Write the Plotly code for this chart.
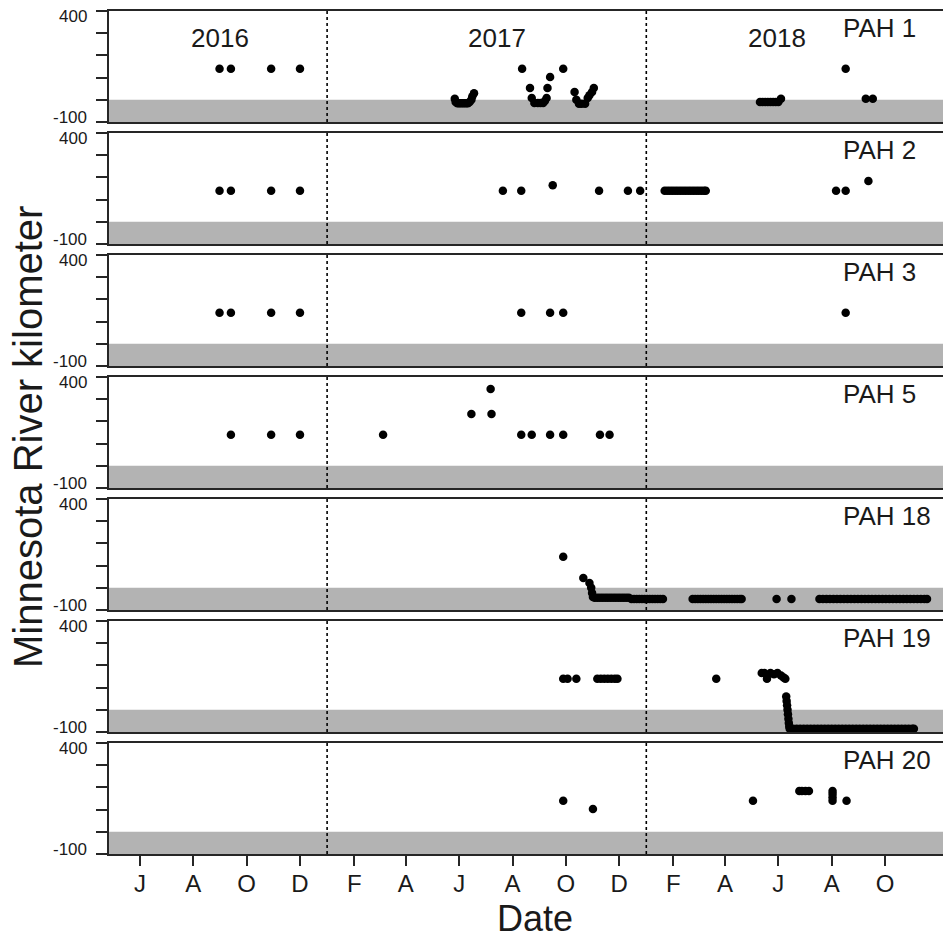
import plotly.graph_objects as go
from plotly.subplots import make_subplots

# ---------------- data ----------------
panel_names = ["PAH 1", "PAH 2", "PAH 3", "PAH 5", "PAH 18", "PAH 19", "PAH 20"]

pah1_dates = ["2016-08-31", "2016-09-13", "2016-10-29", "2016-12-01",
              "2017-05-27", "2017-05-28", "2017-05-30", "2017-06-01", "2017-06-03", "2017-06-05",
              "2017-06-07", "2017-06-09", "2017-06-11", "2017-06-13", "2017-06-15", "2017-06-16",
              "2017-06-18",
              "2017-08-12", "2017-08-21", "2017-08-23", "2017-08-26", "2017-08-30", "2017-09-02",
              "2017-09-05", "2017-09-07", "2017-09-09", "2017-09-10", "2017-09-13", "2017-09-28",
              "2017-10-11", "2017-10-13", "2017-10-16", "2017-10-19", "2017-10-23", "2017-10-26",
              "2017-10-28", "2017-10-31", "2017-11-02",
              "2018-05-11", "2018-05-14", "2018-05-17", "2018-05-20", "2018-05-23", "2018-05-26",
              "2018-05-29", "2018-06-01", "2018-06-04",
              "2018-08-17", "2018-09-09", "2018-09-17"]
pah1_km = [140, 140, 140, 140,
           5, -10, -15, -15, -15, -15,
           -15, -15, -15, -10, 0, 15,
           30,
           140, 53, 8, -14, -14, -14,
           -14, -5, 8, 53, 103, 140,
           35, 0, -18, -18, -18, 8,
           20, 35, 53,
           -10, -10, -10, -10, -10, -10,
           -10, -10, 5,
           140, 5, 5]

pah2_dates = ["2016-08-31", "2016-09-13", "2016-10-29", "2016-12-01",
              "2017-07-21", "2017-08-11", "2017-09-16", "2017-11-08", "2017-12-11", "2017-12-25",
              "2018-01-22", "2018-01-25", "2018-01-28", "2018-01-31", "2018-02-03", "2018-02-06",
              "2018-02-09", "2018-02-12", "2018-02-15", "2018-02-18", "2018-02-21", "2018-02-24",
              "2018-02-27", "2018-03-02", "2018-03-05", "2018-03-08", "2018-03-10",
              "2018-08-06", "2018-08-17", "2018-09-12"]
pah2_km = [140, 140, 140, 140,
           140, 140, 165, 140, 140, 140,
           140, 140, 140, 140, 140, 140,
           140, 140, 140, 140, 140, 140,
           140, 140, 140, 140, 140,
           140, 140, 184]

pah3_dates = ["2016-08-31", "2016-09-13", "2016-10-29", "2016-12-01",
              "2017-08-11", "2017-09-13", "2017-09-28", "2018-08-17"]
pah3_km = [140, 140, 140, 140, 140, 140, 140, 140]

pah5_dates = ["2016-09-13", "2016-10-29", "2016-12-01",
              "2017-03-06", "2017-06-15", "2017-07-07", "2017-07-08",
              "2017-08-11", "2017-08-23", "2017-09-13", "2017-09-28", "2017-11-09", "2017-11-20"]
pah5_km = [140, 140, 140,
           140, 233, 346, 233,
           140, 140, 140, 140, 140, 140]

pah18_dates = ["2017-09-28", "2017-10-21", "2017-10-28", "2017-10-30", "2017-10-31", "2017-11-01",
               "2017-11-03", "2017-11-06", "2017-11-09", "2017-11-12", "2017-11-15", "2017-11-18",
               "2017-11-21", "2017-11-24", "2017-11-27", "2017-11-30", "2017-12-03", "2017-12-06",
               "2017-12-09", "2017-12-12",
               "2017-12-15", "2017-12-18", "2017-12-21", "2017-12-24", "2017-12-27", "2017-12-30",
               "2018-01-02", "2018-01-05", "2018-01-08", "2018-01-11", "2018-01-14", "2018-01-17",
               "2018-01-20",
               "2018-02-23", "2018-02-26", "2018-03-01", "2018-03-04", "2018-03-07", "2018-03-10",
               "2018-03-13", "2018-03-16", "2018-03-19", "2018-03-22", "2018-03-25", "2018-03-28",
               "2018-03-31", "2018-04-03", "2018-04-06", "2018-04-09", "2018-04-12", "2018-04-15",
               "2018-04-18", "2018-04-20",
               "2018-05-30", "2018-06-16",
               "2018-07-18", "2018-07-22", "2018-07-26", "2018-07-30", "2018-08-03", "2018-08-07",
               "2018-08-11", "2018-08-15", "2018-08-19", "2018-08-23", "2018-08-27", "2018-08-31",
               "2018-09-04", "2018-09-08", "2018-09-12", "2018-09-16", "2018-09-20", "2018-09-24",
               "2018-09-28", "2018-10-02", "2018-10-06", "2018-10-10", "2018-10-14", "2018-10-18",
               "2018-10-22", "2018-10-26", "2018-10-30", "2018-11-03", "2018-11-07", "2018-11-11",
               "2018-11-15", "2018-11-18"]
pah18_km = [140, 44, 22, 0, -23, -41,
            -45, -45, -45, -45, -45, -45,
            -45, -45, -45, -45, -45, -45,
            -45, -45,
            -50, -50, -50, -50, -50, -50,
            -50, -50, -50, -50, -50, -50,
            -50,
            -50, -50, -50, -50, -50, -50,
            -50, -50, -50, -50, -50, -50,
            -50, -50, -50, -50, -50, -50,
            -50, -50,
            -50, -50,
            -50, -50, -50, -50, -50, -50,
            -50, -50, -50, -50, -50, -50,
            -50, -50, -50, -50, -50, -50,
            -50, -50, -50, -50, -50, -50,
            -50, -50, -50, -50, -50, -50,
            -50, -50]

pah19_dates = ["2017-09-28", "2017-10-03", "2017-10-13",
               "2017-11-06", "2017-11-10", "2017-11-14", "2017-11-18", "2017-11-22", "2017-11-26",
               "2017-11-29",
               "2018-03-22",
               "2018-05-13", "2018-05-16", "2018-05-19", "2018-05-23", "2018-05-27", "2018-05-31",
               "2018-06-04", "2018-06-07", "2018-06-09",
               "2018-06-10 00:00", "2018-06-10 12:00", "2018-06-11 00:00", "2018-06-11 12:00",
               "2018-06-12 00:00", "2018-06-12 12:00", "2018-06-13 00:00", "2018-06-13 12:00",
               "2018-06-14", "2018-06-18", "2018-06-22", "2018-06-26", "2018-06-30", "2018-07-04",
               "2018-07-08", "2018-07-12", "2018-07-16", "2018-07-20", "2018-07-24", "2018-07-28",
               "2018-08-01", "2018-08-05", "2018-08-09", "2018-08-13", "2018-08-17", "2018-08-21",
               "2018-08-25", "2018-08-29", "2018-09-02", "2018-09-06", "2018-09-10", "2018-09-14",
               "2018-09-18", "2018-09-22", "2018-09-26", "2018-09-30", "2018-10-04", "2018-10-08",
               "2018-10-12", "2018-10-16", "2018-10-20", "2018-10-24", "2018-10-28", "2018-11-01",
               "2018-11-03"]
pah19_km = [140, 140, 140,
            140, 140, 140, 140, 140, 140,
            140,
            140,
            166, 166, 140, 166, 160, 166,
            155, 145, 140,
            60, 40, 20, 0,
            -20, -40, -60, -75,
            -85, -85, -85, -85, -85, -85,
            -85, -85, -85, -85, -85, -85,
            -85, -85, -85, -85, -85, -85,
            -85, -85, -85, -85, -85, -85,
            -85, -85, -85, -85, -85, -85,
            -85, -85, -85, -85, -85, -85,
            -85]

pah20_dates = ["2017-09-28", "2017-11-01", "2018-05-03",
               "2018-06-25", "2018-06-28", "2018-07-02", "2018-07-06",
               "2018-08-02", "2018-08-02", "2018-08-02", "2018-08-02", "2018-08-18"]
pah20_km = [140, 103, 140,
            184, 184, 184, 184,
            184, 170, 155, 140, 140]

panel_dates = [pah1_dates, pah2_dates, pah3_dates, pah5_dates, pah18_dates, pah19_dates, pah20_dates]
panel_km = [pah1_km, pah2_km, pah3_km, pah5_km, pah18_km, pah19_km, pah20_km]

month_tick_dates = ["2016-06-01", "2016-08-01", "2016-10-01", "2016-12-01",
                    "2017-02-01", "2017-04-01", "2017-06-01", "2017-08-01", "2017-10-01", "2017-12-01",
                    "2018-02-01", "2018-04-01", "2018-06-01", "2018-08-01", "2018-10-01"]
month_tick_labels = ["J", "A", "O", "D", "F", "A", "J", "A", "O", "D", "F", "A", "J", "A", "O"]

year_labels = ["2016", "2017", "2018"]
year_label_dates = ["2016-08-31", "2017-07-14", "2018-05-31"]
year_boundaries = ["2017-01-01", "2018-01-01"]

y_tick_vals = [-100, 0, 100, 200, 300, 400]
km_range = [-100, 400]
band_range = [-100, 0]
x_range = ["2016-04-26 14:00", "2018-12-06 07:00"]

# ---------------- figure ----------------
W, H = 943, 939
ML, MR, MT, MB = 109, 0, 11, 85
PW, PH = W - ML - MR, H - MT - MB

FONT = "Arial, Liberation Sans, Helvetica, sans-serif"
INK = "#1a1a1a"
LINE = "#262626"

n = len(panel_names)
fig = make_subplots(rows=n, cols=1, vertical_spacing=11 / PH)

def px_x(px):
    return (px - ML) / PW

def px_y(py):
    return (H - MB - py) / PH

for i in range(n):
    r = i + 1
    fig.add_trace(go.Scatter(x=panel_dates[i], y=panel_km[i], mode="markers",
                             marker=dict(color="black", size=8.5, line=dict(width=0)),
                             showlegend=False, hoverinfo="x+y"), row=r, col=1)
    sfx = "" if r == 1 else str(r)
    # grey band
    fig.add_shape(type="rect", xref=f"x{sfx} domain", x0=0, x1=1, yref=f"y{sfx}",
                  y0=band_range[0], y1=band_range[1], fillcolor="#b3b3b3",
                  line=dict(width=0), layer="below")
    # year boundaries
    for d in year_boundaries:
        fig.add_shape(type="line", xref=f"x{sfx}", x0=d, x1=d, yref=f"y{sfx} domain", y0=0, y1=1,
                      line=dict(color="black", width=1.6, dash="dot"), layer="below")
    # panel label
    fig.add_annotation(text=panel_names[i], xref="paper", x=px_x(841), xanchor="left",
                       yref=f"y{sfx}", y=323, yanchor="middle", showarrow=False,
                       font=dict(family=FONT, size=26, color=INK))
    # y tick labels at the ends only
    fig.add_annotation(text=str(y_tick_vals[-1]), xref="paper", x=px_x(89), xanchor="right",
                       yref=f"y{sfx}", y=y_tick_vals[-1], yanchor="middle", yshift=-5,
                       showarrow=False, font=dict(family=FONT, size=17, color=INK))
    fig.add_annotation(text=str(y_tick_vals[0]), xref="paper", x=px_x(89), xanchor="right",
                       yref=f"y{sfx}", y=y_tick_vals[0], yanchor="middle", yshift=5,
                       showarrow=False, font=dict(family=FONT, size=17, color=INK))

for lab, d in zip(year_labels, year_label_dates):
    fig.add_annotation(text=lab, xref="x", x=d, yref="y", y=278, xanchor="center", yanchor="middle",
                       showarrow=False, font=dict(family=FONT, size=26, color=INK))

fig.update_yaxes(range=km_range, tickvals=y_tick_vals, ticktext=[""] * len(y_tick_vals),
                 ticks="outside", ticklen=11, tickwidth=1.5, tickcolor=LINE,
                 showline=True, linecolor=LINE, linewidth=1.8,
                 showgrid=False, zeroline=False, fixedrange=True)
fig.update_xaxes(type="date", range=x_range, showline=True, mirror=True, linecolor=LINE, linewidth=1.8,
                 showgrid=False, zeroline=False, ticks="", showticklabels=False)
fig.update_xaxes(row=n, col=1, ticks="outside", ticklen=10, tickwidth=1.5, tickcolor=LINE,
                 tickmode="array", tickvals=month_tick_dates, ticktext=month_tick_labels,
                 showticklabels=True, ticklabelstandoff=-3,
                 tickfont=dict(family=FONT, size=24, color=INK))

fig.add_annotation(text="Minnesota River kilometer", textangle=-90, xref="paper", yref="paper",
                   x=px_x(28), y=px_y(437), xanchor="center", yanchor="middle", showarrow=False,
                   font=dict(family=FONT, size=40, color=INK))
fig.add_annotation(text="Date", xref="paper", yref="paper", x=px_x(535), y=px_y(918.5),
                   xanchor="center", yanchor="middle", showarrow=False, borderpad=0,
                   font=dict(family=FONT, size=36, color=INK))

fig.update_layout(width=W, height=H, margin=dict(l=ML, r=MR, t=MT, b=MB),
                  paper_bgcolor="white", plot_bgcolor="white", showlegend=False,
                  font=dict(family=FONT, color=INK))

fig.write_html("out.html", config={"displayModeBar": False},
               post_script="document.body.style.margin='0px';"
                           "document.documentElement.style.overflow='hidden';"
                           "document.body.style.overflow='hidden';")
